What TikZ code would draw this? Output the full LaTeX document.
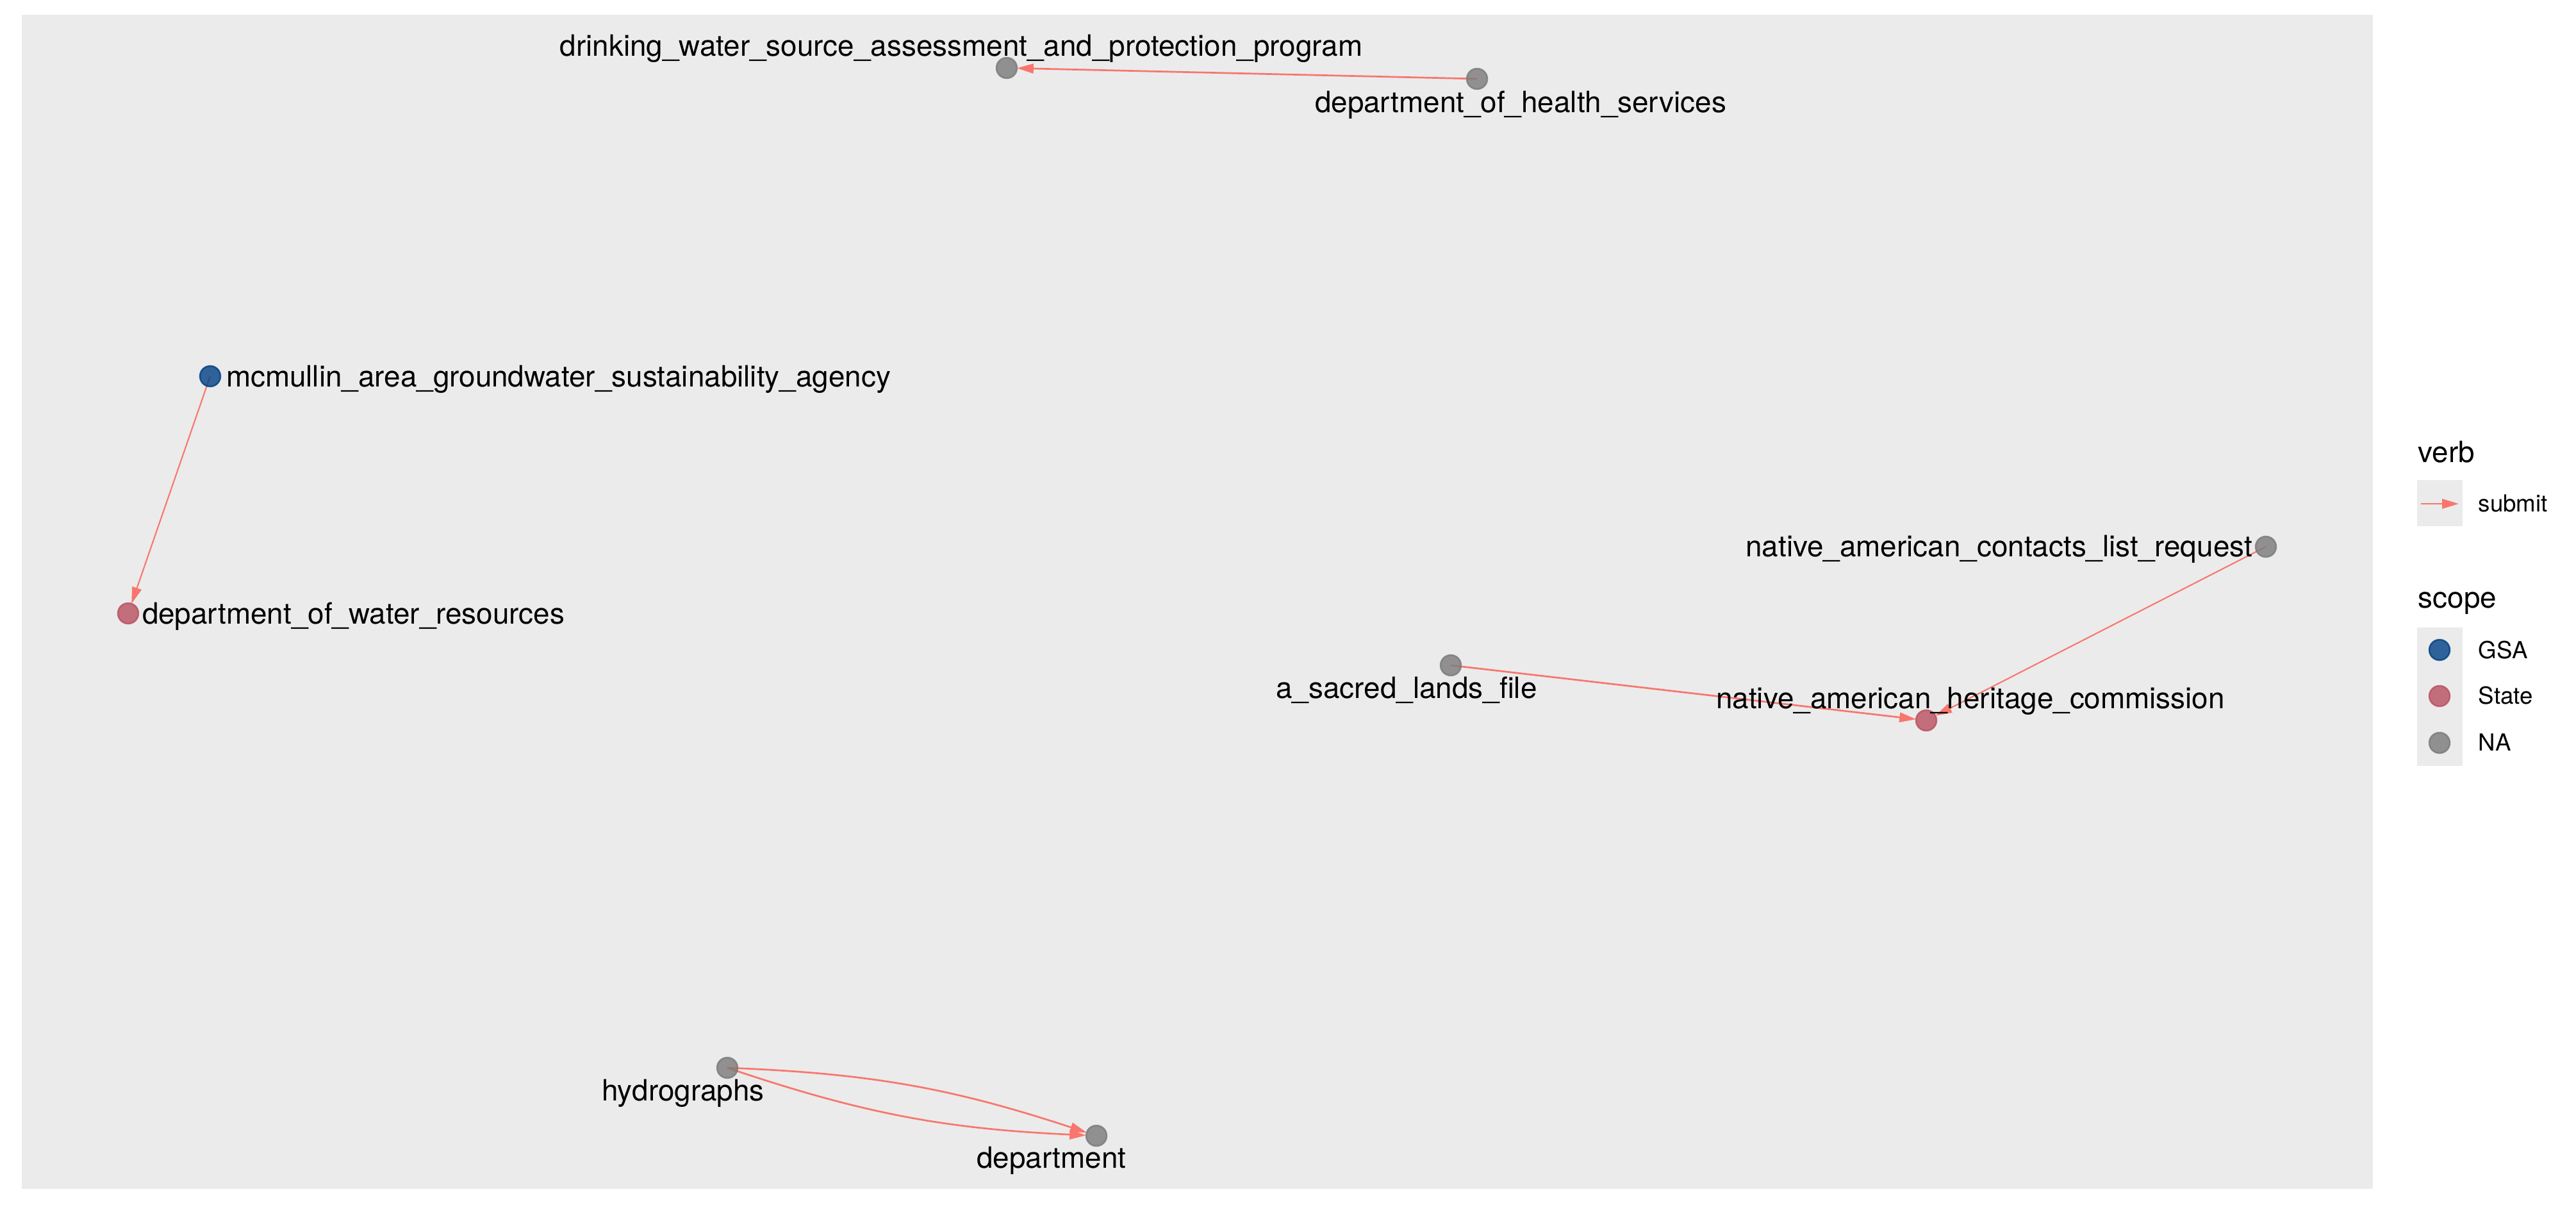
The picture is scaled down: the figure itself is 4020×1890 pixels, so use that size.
\documentclass[tikz,border=0pt]{standalone}
\usepackage{fontspec}
\setmainfont{TeX Gyre Heros}
\usetikzlibrary{arrows.meta}
\pgfdeclarelayer{bg}
\pgfdeclarelayer{edgelayer}
\pgfsetlayers{bg,edgelayer,main}
\definecolor{edgec}{HTML}{F8766D}
\definecolor{panelc}{HTML}{EBEBEB}
\definecolor{keyc}{HTML}{EBEBEB}
\definecolor{gsac}{RGB}{0,64,132}
\definecolor{statec}{RGB}{186,79,96}
\definecolor{nac}{RGB}{122,122,122}
\tikzset{
  vtx/.style={circle, inner sep=0pt, outer sep=0pt, minimum size=7.68pt, line width=0.6pt, fill opacity=0.8, draw opacity=0.8},
  gsa/.style={vtx, fill=gsac, draw=gsac},
  state/.style={vtx, fill=statec, draw=statec},
  na/.style={vtx, fill=nac, draw=nac},
  lab/.style={font=\fontsize{11}{13}\selectfont, inner sep=0pt, outer sep=0pt},
  legtitle/.style={font=\fontsize{11}{13}\selectfont, inner sep=0pt, anchor=base west},
  legtext/.style={font=\fontsize{8.8}{10}\selectfont, inner sep=0pt, anchor=base west},
  edgeline/.style={draw=edgec, line width=0.65pt, -{Triangle[length=6.2pt,width=3.6pt]}},
  thinedge/.style={edgeline, line width=0.5pt},
  keybox/.style={fill=keyc, draw=none}
}
\begin{document}
\begin{tikzpicture}[x=0.24pt,y=-0.24pt]
\useasboundingbox (0,0) rectangle (4020,1890);
\begin{pgfonlayer}{bg}
\fill[white] (0,0) rectangle (4020,1890);
\fill[panelc] (34,23) rectangle (3703,1855);
\end{pgfonlayer}

% vertices
\node[na] (drink) at (1571,106) {};
\node[na] (health) at (2305,123) {};
\node[gsa] (mcm) at (328,587) {};
\node[state] (dwr) at (200,957) {};
\node[na] (contacts) at (3536,853) {};
\node[na] (sacred) at (2264,1038) {};
\node[state] (nahc) at (3006,1124) {};
\node[na] (hydro) at (1135,1666) {};
\node[na] (dept) at (1711,1772) {};

% labels
\node[lab, anchor=base] (ldrink) at (1500,87) {drinking\_water\_source\_assessment\_and\_protection\_program};
\node[lab, anchor=base] (lhealth) at (2373,175) {department\_of\_health\_services};
\node[lab, anchor=base west] (lmcm) at (353,603) {mcmullin\_area\_groundwater\_sustainability\_agency};
\node[lab, anchor=base west] (ldwr) at (222,973) {department\_of\_water\_resources};
\node[lab, anchor=base east] (lcontacts) at (3515,868) {native\_american\_contacts\_list\_request};
\node[lab, anchor=base] (lsacred) at (2195,1089) {a\_sacred\_lands\_file};
\node[lab, anchor=base] (lnahc) at (3075,1105) {native\_american\_heritage\_commission};
\node[lab, anchor=base] (lhydro) at (1066,1717) {hydrographs};
\node[lab, anchor=base] (ldept) at (1641,1822) {department};

% edges
\begin{pgfonlayer}{edgelayer}
\draw[edgeline] (health.center) -- (drink);
\draw[thinedge] (mcm.center) -- (dwr);
\draw[thinedge] (contacts.center) -- (nahc);
\draw[edgeline] (sacred.center) -- (nahc);
\draw[edgeline] (hydro.center) to[bend left=8] (dept);
\draw[edgeline] (hydro.center) to[bend right=8] (dept);
\end{pgfonlayer}

% legend
\node[legtitle] (tverb) at (3773,721) {verb};
\fill[keybox] (3772,749) rectangle (3843,821);
\coordinate (ka) at (3778,786);
\coordinate (kb) at (3837,786);
\draw[edgeline] (ka) -- (kb);
\node[legtext] (tsubmit) at (3867,798) {submit};

\node[legtitle] (tscope) at (3773,948) {scope};
\fill[keybox] (3772,979) rectangle (3843,1195);
\node[gsa] (kgsa) at (3807,1014) {};
\node[state] (kstate) at (3807,1086) {};
\node[na] (kna) at (3807,1159) {};
\node[legtext] (tgsa) at (3867,1027) {GSA};
\node[legtext] (tstate) at (3867,1098) {State};
\node[legtext] (tna) at (3867,1171) {NA};
\end{tikzpicture}
\end{document}
